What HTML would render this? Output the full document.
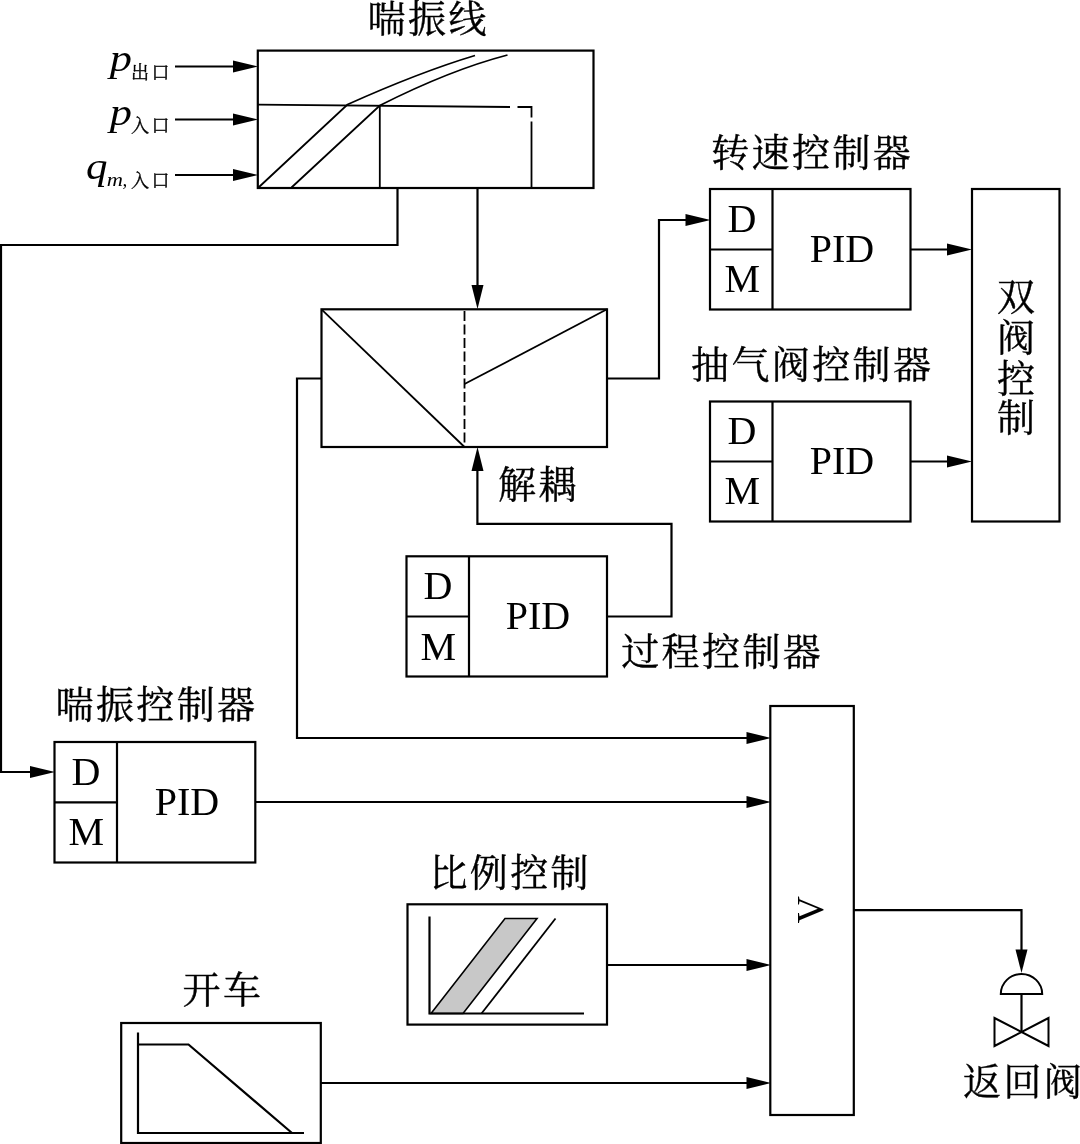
<!DOCTYPE html>
<html lang="zh-CN">
<head>
<meta charset="utf-8">
<title>防喘振控制系统框图</title>
<style>
html,body{margin:0;padding:0;background:#fff;}
body{width:1080px;height:1144px;overflow:hidden;}
svg{display:block;will-change:transform;}
.ln{fill:none;stroke:#000;stroke-width:2.2;stroke-linecap:butt;stroke-linejoin:miter;}
.bx{fill:#fff;stroke:#000;stroke-width:2.2;}
.in{fill:none;stroke:#000;stroke-width:1.8;}
.ah{fill:#000;stroke:none;}
text{font-family:"Liberation Serif","Noto Serif CJK SC",serif;fill:#000;}
.cj{font-size:38px;letter-spacing:2.4px;text-anchor:middle;stroke:#000;stroke-width:.4px;}
.lt{font-size:40px;text-anchor:middle;}
.it{font-style:italic;font-size:37px;}
.sub{font-size:18px;letter-spacing:2.6px;stroke:#000;stroke-width:.35px;}
.subi{font-style:italic;font-size:19px;}
</style>
</head>
<body>
<svg width="1080" height="1144" viewBox="0 0 1080 1144">
<rect x="0" y="0" width="1080" height="1144" fill="#fff"/>

<!-- surge line block -->
<g id="surge-line">
<text class="cj" x="428.2" y="32">喘振线</text>
<rect class="bx" x="257.8" y="50.6" width="335.7" height="137.4"/>
<path class="in" d="M257.8 104.7 L510 107"/>
<path class="in" d="M517.5 107 L531.5 107 L531.5 117.5 M531.5 121.5 L531.5 188"/>
<path class="in" d="M379.8 105.5 L379.8 188"/>
<path class="in" d="M258.5 187.5 L347.5 104.5 Q420 72 475 55.5"/>
<path class="in" d="M291.5 187.5 L379.8 105.5 Q450 70 507.5 55"/>
</g>

<!-- input labels -->
<g id="inputs">
<text class="it" transform="translate(109.8 70.8) scale(1.2 1)">p</text><text class="sub" x="131" y="79">出口</text>
<text class="it" transform="translate(109.8 124.8) scale(1.2 1)">p</text><text class="sub" x="131" y="132.3">入口</text>
<text class="it" transform="translate(86 179) scale(1.16 1)">q</text><text class="subi" transform="translate(106.7 186) scale(1.18 1)">m</text><text class="subi" x="122.6" y="186">,</text><text class="sub" x="131" y="187.3">入口</text>
<path class="ln" d="M175 66.5 H240 M175 119.5 H240 M175 175 H240"/>
<path class="ah" d="M258 66.5 L233 60.5 L233 72.5 Z M258 119.5 L233 113.5 L233 125.5 Z M258 175 L233 169 L233 181 Z"/>
</g>

<!-- wires from surge line -->
<path class="ln" d="M397.5 188 V245 H1 V772 H35"/>
<path class="ah" d="M55 772 L30 766 L30 778 Z"/>
<path class="ln" d="M477.5 188 V290"/>
<path class="ah" d="M477.5 309 L471.5 285 L483.5 285 Z"/>

<!-- decoupling block -->
<g id="decouple">
<rect class="bx" x="321.5" y="309.3" width="285.5" height="137.7"/>
<path class="in" d="M321.5 309.3 L464.5 447"/>
<path class="in" d="M464.5 384 L607 309.3"/>
<path class="in" stroke-dasharray="10 3.5" d="M464.5 311 V447"/>
<text class="cj" x="538.5" y="498">解耦</text>
</g>
<path class="ln" d="M321.5 378.5 H297 V738 H752"/>
<path class="ah" d="M771 738 L746.5 732 L746.5 744 Z"/>
<path class="ln" d="M607 378.5 H659 V220 H690"/>
<path class="ah" d="M710.5 220 L685.5 214 L685.5 226 Z"/>

<!-- speed controller -->
<g id="speed">
<text class="cj" x="812.2" y="166">转速控制器</text>
<rect class="bx" x="710" y="189" width="200.5" height="120.5"/>
<path class="ln" d="M772.5 189 V309.5 M710 249.5 H772.5"/>
<text class="lt" x="742" y="232">D</text>
<text class="lt" x="742.2" y="292">M</text>
<text class="lt" x="842" y="262">PID</text>
<path class="ln" d="M910.5 249.5 H952"/>
<path class="ah" d="M972 249.5 L947 243.5 L947 255.5 Z"/>
</g>

<!-- bleed valve controller -->
<g id="bleed">
<text class="cj" x="812.2" y="378">抽气阀控制器</text>
<rect class="bx" x="710" y="401.5" width="200.5" height="120"/>
<path class="ln" d="M772.5 401.5 V521.5 M710 461.5 H772.5"/>
<text class="lt" x="742" y="444">D</text>
<text class="lt" x="742.2" y="504">M</text>
<text class="lt" x="842" y="474">PID</text>
<path class="ln" d="M910.5 461.5 H952"/>
<path class="ah" d="M972 461.5 L947 455.5 L947 467.5 Z"/>
</g>

<!-- dual valve control -->
<g id="dual">
<rect class="bx" x="972" y="189" width="87.5" height="332.5"/>
<text class="cj" x="1017.2" y="310">双</text>
<text class="cj" x="1017.2" y="351">阀</text>
<text class="cj" x="1017.2" y="391.5">控</text>
<text class="cj" x="1017.2" y="431">制</text>
</g>

<!-- process controller -->
<g id="process">
<rect class="bx" x="406.5" y="556.3" width="200.5" height="120.2"/>
<path class="ln" d="M469 556.3 V676.5 M406.5 616.5 H469"/>
<text class="lt" x="438" y="599">D</text>
<text class="lt" x="438.2" y="660">M</text>
<text class="lt" x="538" y="629">PID</text>
<text class="cj" x="722.2" y="665">过程控制器</text>
<path class="ln" d="M607 616.5 H671.5 V523.8 H477.4 V466"/>
<path class="ah" d="M477.5 447 L471.5 471 L483.5 471 Z"/>
</g>

<!-- surge controller -->
<g id="surgectl">
<text class="cj" x="156.5" y="718">喘振控制器</text>
<rect class="bx" x="54.5" y="742" width="200.8" height="120.5"/>
<path class="ln" d="M117 742 V862.5 M54.5 802.3 H117"/>
<text class="lt" x="86" y="785">D</text>
<text class="lt" x="86.2" y="845">M</text>
<text class="lt" x="187" y="815">PID</text>
<path class="ln" d="M255.3 802 H752"/>
<path class="ah" d="M771 802 L746.5 796 L746.5 808 Z"/>
</g>

<!-- proportional control -->
<g id="prop">
<text class="cj" x="510.2" y="886">比例控制</text>
<rect class="bx" x="407.5" y="904.3" width="199.5" height="120.3"/>
<path d="M431 1013.5 L505 918.5 L537 918.5 L463 1013.5 Z" fill="#c8c8c8" stroke="#000" stroke-width="1.6"/>
<path class="in" d="M481.5 1013.5 L555.5 918.5"/>
<path class="ln" d="M429.5 916.5 V1013.5 H584"/>
<path class="ln" d="M607 965 H752"/>
<path class="ah" d="M771 965 L746.5 959 L746.5 971 Z"/>
</g>

<!-- start-up -->
<g id="startup">
<text class="cj" x="223" y="1003">开车</text>
<rect class="bx" x="121.2" y="1023" width="199.6" height="120"/>
<path class="ln" d="M138 1032.5 V1133 H304"/>
<path class="ln" d="M138 1044.5 H188.5 L292 1133"/>
<path class="ln" d="M320.5 1083 H752"/>
<path class="ah" d="M771 1083 L746.5 1077 L746.5 1089 Z"/>
</g>

<!-- selector block -->
<g id="selector">
<rect class="bx" x="770.3" y="706" width="83.5" height="409"/>
<text class="lt" style="font-size:38px" transform="translate(823 909.8) rotate(-90)" x="0" y="0">V</text>
<path class="ln" d="M854 910.2 H1021.5 V955"/>
<path class="ah" d="M1021.5 973 L1015.5 949.5 L1027.5 949.5 Z"/>
</g>

<!-- return valve -->
<g id="valve">
<path d="M1000.8 994 A20.7 20 0 0 1 1042.2 994 Z" fill="#fff" stroke="#000" stroke-width="2"/>
<path class="ln" d="M1021.5 995 V1031.5"/>
<path d="M994.5 1018 L1048.5 1046 L1048.5 1018 L994.5 1046 Z" fill="#fff" stroke="#000" stroke-width="2" stroke-linejoin="miter"/>
<text class="cj" style="text-anchor:start" x="963" y="1095">返回阀</text>
</g>
</svg>
</body>
</html>
